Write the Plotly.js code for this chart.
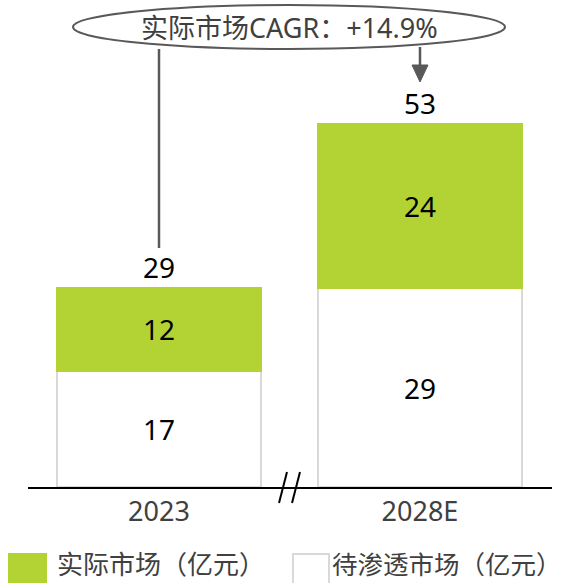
<!DOCTYPE html>
<html>
<head>
<meta charset="utf-8">
<script src="https://cdn.plot.ly/plotly-3.0.1.min.js"></script>
<style>html,body{margin:0;padding:0;background:#fff;}#chart{width:565px;height:583px;}</style>
</head>
<body>
<div id="chart"></div>
<script>
// ---- data ----
var categories = ['2023', '2028E'];
var actualMarket = [12, 24];        // 实际市场（亿元）
var untappedMarket = [17, 29];      // 待渗透市场（亿元）
var totals = [29, 53];
var cagrText = '实际市场CAGR：+14.9%';
var seriesNames = ['实际市场（亿元）', '待渗透市场（亿元）'];

// ---- layout helpers ----
var W = 565, H = 583;
var M = {l: 28, r: 13, t: 0, b: 96};
var PW = W - M.l - M.r, PH = H - M.t - M.b;
function px(x) { return (x - M.l) / PW; }
function py(y) { return (H - M.b - y) / PH; }

var FONT = '"Noto Sans", "Noto Sans CJK SC", sans-serif';
var GREEN = '#b3d335';
var GRAY = '#595959';

var traces = [
  {
    type: 'bar', x: categories, y: untappedMarket, name: seriesNames[1],
    width: 0.78,
    marker: {color: '#ffffff', line: {color: '#d9d9d9', width: 2}},
    text: untappedMarket.map(String), textposition: 'inside', insidetextanchor: 'middle',
    textfont: {family: FONT, size: 28, color: '#000000'},
    hoverinfo: 'skip'
  },
  {
    type: 'bar', x: categories, y: actualMarket, name: seriesNames[0],
    width: 0.78,
    marker: {color: GREEN, line: {color: GREEN, width: 2}},
    text: actualMarket.map(String), textposition: 'inside', insidetextanchor: 'middle',
    textfont: {family: FONT, size: 28, color: '#000000'},
    hoverinfo: 'skip'
  }
];

var annotations = categories.map(function (c, i) {
  return {
    x: i, y: totals[i], xref: 'x', yref: 'y', text: String(totals[i]),
    showarrow: false, yanchor: 'middle', yshift: 21,
    font: {family: FONT, size: 28, color: '#000000'}
  };
});
annotations.push({
  x: px(289), y: py(28), xref: 'paper', yref: 'paper', text: cagrText,
  showarrow: false, xanchor: 'center', yanchor: 'middle',
  font: {family: FONT, size: 27, color: '#404040'}
});
// custom legend texts
annotations.push({
  x: px(55), y: py(564), xref: 'paper', yref: 'paper', text: seriesNames[0],
  showarrow: false, xanchor: 'left', yanchor: 'middle',
  font: {family: FONT, size: 26, color: '#404040'}
});
annotations.push({
  x: px(564), y: py(564), xref: 'paper', yref: 'paper', text: seriesNames[1],
  showarrow: false, xanchor: 'right', yanchor: 'middle',
  font: {family: FONT, size: 25.5, color: '#404040'}
});

var shapes = [
  // ellipse
  {type: 'circle', xref: 'paper', yref: 'paper', x0: px(73), x1: px(505), y0: py(49), y1: py(5),
   line: {color: GRAY, width: 2}, fillcolor: 'rgba(0,0,0,0)'},
  // left connector line
  {type: 'line', xref: 'paper', yref: 'paper', x0: px(159), x1: px(159), y0: py(49), y1: py(248),
   line: {color: GRAY, width: 2.5}},
  // arrow shaft
  {type: 'line', xref: 'paper', yref: 'paper', x0: px(420), x1: px(420), y0: py(47), y1: py(67),
   line: {color: GRAY, width: 2.5}},
  // arrow head
  {type: 'path', xref: 'paper', yref: 'paper',
   path: 'M ' + px(412) + ' ' + py(65) + ' L ' + px(428) + ' ' + py(65) + ' L ' + px(420) + ' ' + py(82) + ' Z',
   fillcolor: GRAY, line: {color: GRAY, width: 1}},
  // axis break marks
  {type: 'line', xref: 'paper', yref: 'paper', x0: px(279), x1: px(287), y0: py(503), y1: py(472),
   line: {color: '#000000', width: 2}},
  {type: 'line', xref: 'paper', yref: 'paper', x0: px(292), x1: px(300), y0: py(503), y1: py(472),
   line: {color: '#000000', width: 2}},
  // legend boxes
  {type: 'rect', xref: 'paper', yref: 'paper', x0: px(8), x1: px(47), y0: py(553), y1: py(586),
   fillcolor: GREEN, line: {width: 0}},
  {type: 'rect', xref: 'paper', yref: 'paper', x0: px(293), x1: px(329), y0: py(554), y1: py(586),
   fillcolor: '#ffffff', line: {color: '#d9d9d9', width: 2}}
];

var layout = {
  width: W, height: H,
  margin: M,
  barmode: 'stack',
  showlegend: false,
  paper_bgcolor: '#ffffff', plot_bgcolor: '#ffffff',
  xaxis: {
    type: 'category', range: [-0.502, 1.506],
    showline: true, linecolor: '#000000', linewidth: 2,
    ticks: '', showgrid: false, zeroline: false,
    tickfont: {family: FONT, size: 27, color: '#404040'}
  },
  yaxis: {
    range: [0, PH / 6.85], visible: false, showgrid: false, zeroline: false
  },
  annotations: annotations,
  shapes: shapes
};

Plotly.newPlot('chart', traces, layout, {staticPlot: true, displayModeBar: false});
</script>
</body>
</html>
